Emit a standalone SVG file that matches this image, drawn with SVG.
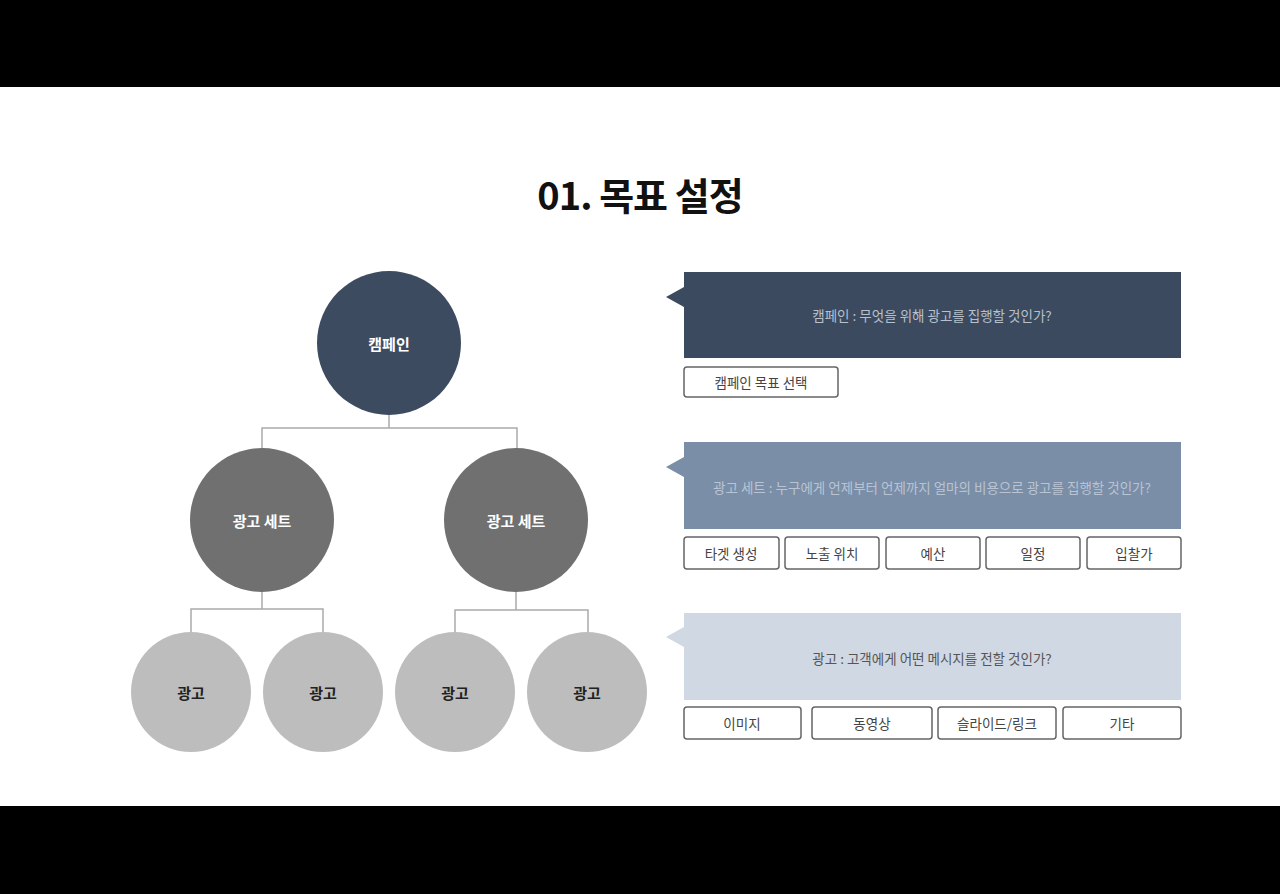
<svg xmlns="http://www.w3.org/2000/svg" width="1280" height="894" viewBox="0 0 1280 894">
<style>
text{font-family:"Noto Sans CJK KR","Noto Sans",sans-serif;text-anchor:middle;dominant-baseline:central}
.n{font-size:15px;font-weight:bold;fill:#fff}
.ad{font-size:15px;font-weight:bold;fill:#222}
.q{font-size:13.5px}
.b{fill:#fff;stroke:#666;stroke-width:1.5}
.bt{font-size:13.5px;fill:#444}
.c{fill:none;stroke:#aaa;stroke-width:1.5}
</style>
<rect width="1280" height="894" fill="#fff"/>
<rect width="1280" height="87" fill="#000"/>
<rect y="806" width="1280" height="88" fill="#000"/>
<text x="640" y="193" style="font-size:38px;font-weight:bold;fill:#111;letter-spacing:-1px">01. 목표 설정</text>
<g id="connectors">
<path class="c" d="M389 415V428M262 448V428H517V448"/>
<path class="c" d="M262 592V609M191 632V609H323V632"/>
<path class="c" d="M516 592V610M455 632V610H588V632"/>
</g>
<g id="campaign"><circle cx="389" cy="343" r="72" fill="#3d4b61"/><text class="n" x="389" y="343">캠페인</text></g>
<g id="set1"><circle cx="262" cy="520" r="72" fill="#707070"/><text class="n" x="262" y="520">광고 세트</text></g>
<g id="set2"><circle cx="516" cy="520" r="72" fill="#707070"/><text class="n" x="516" y="520">광고 세트</text></g>
<g id="ad1"><circle cx="191" cy="692" r="60" fill="#bdbdbd"/><text class="ad" x="191" y="692">광고</text></g>
<g id="ad2"><circle cx="323" cy="692" r="60" fill="#bdbdbd"/><text class="ad" x="323" y="692">광고</text></g>
<g id="ad3"><circle cx="455" cy="692" r="60" fill="#bdbdbd"/><text class="ad" x="455" y="692">광고</text></g>
<g id="ad4"><circle cx="587" cy="692" r="60" fill="#bdbdbd"/><text class="ad" x="587" y="692">광고</text></g>
<g id="panel1">
<path d="M684 272H1181V358H684V307L666 297L684 287Z" fill="#3b4a5f"/>
<text class="q" x="932" y="315" fill="#b8c0cc">캠페인 : 무엇을 위해 광고를 집행할 것인가?</text>
<rect class="b" x="684" y="367" width="154" height="30" rx="3"/><text class="bt" x="761" y="382">캠페인 목표 선택</text>
</g>
<g id="panel2">
<path d="M684 442H1181V529H684V477L666 467L684 457Z" fill="#7a8ea8"/>
<text class="q" x="932" y="487" fill="#b9c4d2">광고 세트 : 누구에게 언제부터 언제까지 얼마의 비용으로 광고를 집행할 것인가?</text>
<rect class="b" x="684" y="537" width="95" height="32" rx="3"/><text class="bt" x="731" y="553">타겟 생성</text>
<rect class="b" x="785" y="537" width="94" height="32" rx="3"/><text class="bt" x="832" y="553">노출 위치</text>
<rect class="b" x="886" y="537" width="94" height="32" rx="3"/><text class="bt" x="933" y="553">예산</text>
<rect class="b" x="986" y="537" width="94" height="32" rx="3"/><text class="bt" x="1033" y="553">일정</text>
<rect class="b" x="1087" y="537" width="94" height="32" rx="3"/><text class="bt" x="1134" y="553">입찰가</text>
</g>
<g id="panel3">
<path d="M684 613H1181V700H684V647L666 637L684 627Z" fill="#d0d8e3"/>
<text class="q" x="932" y="658" fill="#555">광고 : 고객에게 어떤 메시지를 전할 것인가?</text>
<rect class="b" x="684" y="707" width="117" height="32" rx="3"/><text class="bt" x="742" y="723">이미지</text>
<rect class="b" x="812" y="707" width="120" height="32" rx="3"/><text class="bt" x="872" y="723">동영상</text>
<rect class="b" x="938" y="707" width="118" height="32" rx="3"/><text class="bt" x="997" y="723">슬라이드/링크</text>
<rect class="b" x="1063" y="707" width="118" height="32" rx="3"/><text class="bt" x="1122" y="723">기타</text>
</g>
</svg>
